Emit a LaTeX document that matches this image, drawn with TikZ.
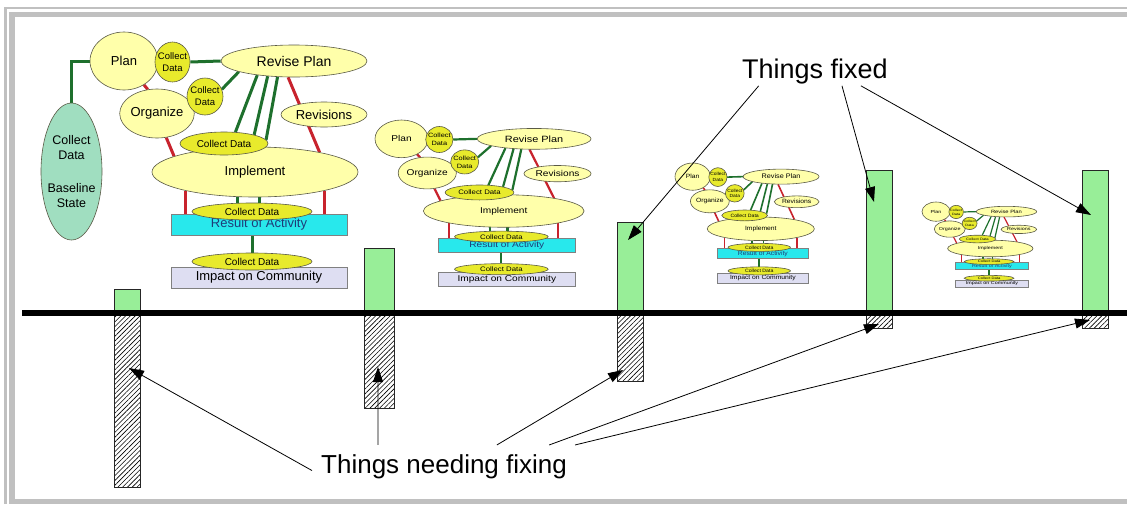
\documentclass[tikz,border=0pt]{standalone}
\usepackage{fontspec}
\setmainfont{Liberation Sans}
\usetikzlibrary{shapes.geometric,arrows.meta,patterns.meta,calc}
\pgfdeclarelayer{back}
\pgfdeclarelayer{conn}
\pgfsetlayers{back,conn,main}
\definecolor{paley}{RGB}{255,255,170}
\definecolor{brighty}{RGB}{232,234,44}
\definecolor{cyanbox}{RGB}{40,232,236}
\definecolor{lavbox}{RGB}{222,222,242}
\definecolor{mint}{RGB}{160,222,192}
\definecolor{barg}{RGB}{152,238,152}
\definecolor{dkgreen}{RGB}{30,112,45}
\definecolor{dkred}{RGB}{200,35,45}
\definecolor{framegray}{RGB}{192,192,192}
\definecolor{navytext}{RGB}{30,60,120}
\definecolor{outline}{RGB}{90,90,70}
\tikzset{
  connw/.store in=\connw, connw=3pt,
  gline/.style={draw=dkgreen, line width=\connw},
  rline/.style={draw=dkred, line width=\connw},
  oval/.style={ellipse, draw=outline, line width=0.6pt, inner sep=0pt},
  paleoval/.style={oval, fill=paley, font=\fontsize{13}{15}\selectfont},
  cdoval/.style={oval, fill=brighty, font=\fontsize{10}{12}\selectfont},
  cdcirc/.style={oval, fill=brighty, align=center, inner xsep=-4pt,
    font=\fontsize{9.5}{12}\selectfont, minimum width=35pt, minimum height=40pt},
  boxnode/.style={rectangle, draw=gray, line width=0.6pt, minimum width=176pt,
    minimum height=21pt, inner sep=0pt, font=\fontsize{13}{15}\selectfont},
  greenbar/.style={rectangle, draw=black!85, line width=0.8pt, fill=barg,
    inner sep=0pt, minimum width=26pt},
  hatchbar/.style={rectangle, draw=black!85, line width=0.8pt, inner sep=0pt,
    minimum width=26pt, pattern={Lines[angle=45,distance=3.4pt,line width=0.6pt]}},
  arr/.style={draw=black, line width=0.8pt, -{Triangle[length=15pt,width=10pt]}},
  pics/network/.style={code={
    \node[paleoval, minimum width=68pt, minimum height=58pt] (plan) at (34,29) {Plan};
    \node[cdcirc] (cd1) at (82.5,30) {Collect\\Data};
    \node[paleoval, minimum width=146pt, minimum height=32pt,
      font=\fontsize{14}{16}\selectfont] (revise) at (204,29) {Revise Plan};
    \node[paleoval, minimum width=72pt, minimum height=49pt] (org) at (67,81.5) {Organize};
    \node[cdcirc, minimum width=36pt, minimum height=37pt] (cd2) at (115,64.5) {Collect\\Data};
    \node[paleoval, minimum width=86pt, minimum height=25pt] (revs) at (234,82.5) {Revisions};
    \node[paleoval, minimum width=206pt, minimum height=50pt] (impl) at (165,140) {Implement};
    \node[cdoval, minimum width=88pt, minimum height=23pt] (cd3) at (134,111.5) {Collect Data};
    \node[boxnode, fill=cyanbox, text=navytext] (res) at (169,192.5) {Result of Activity};
    \node[cdoval, minimum width=120pt, minimum height=17pt] (cd4) at (162,179.5) {Collect Data};
    \node[boxnode, fill=lavbox] (imp) at (169,245.5) {Impact on Community};
    \node[cdoval, minimum width=120pt, minimum height=17pt] (cd5) at (162,229.5) {Collect Data};
    \begin{pgfonlayer}{conn}
      \draw[gline] (cd1.east) -- (revise.west);
      \draw[rline] (plan.-50) -- (org.111);
      \draw[rline] (org.-69) -- (impl.169);
      \draw[gline] (revise.191) -- (cd2.23);
      \draw[gline] (revise.201) -- (cd3.45);
      \draw[gline] (revise.210) -- (cd3.16);
      \draw[gline] (revise.224) -- (cd3.5);
      \draw[rline] (revise.250) -- (impl.17);
      \draw[rline] (impl.195) -- (impl.195 |- res.north);
      \draw[rline] (impl.345) -- (impl.345 |- res.north);
      \draw[gline] (impl.235) -- (impl.235 |- cd4.north);
      \draw[gline] (impl.281) -- (impl.281 |- cd4.north);
      \draw[gline] (cd5.north |- res.south) -- (cd5.north);
    \end{pgfonlayer}
  }}
}
\begin{document}
\begin{tikzpicture}[x=1pt,y=-1pt]
\useasboundingbox (0,0) rectangle (1127,504);
\begin{pgfonlayer}{back}
  \fill[white] (0,0) rectangle (1127,504);
\end{pgfonlayer}
% frame
\fill[framegray] (4,7) rectangle (1127,9);
\fill[framegray] (4,7) rectangle (6.7,504);
\fill[framegray] (9.3,11.7) rectangle (1127,17.3);
\fill[framegray] (9.3,11.7) rectangle (15,504);
\fill[framegray] (15,499) rectangle (1127,504);

% the four copies of the plan
\begin{scope}[shift={(90,32)}, transform shape]
  \pic[connw=3pt] (c1-) {network};
\end{scope}
\begin{scope}[shift={(375,120)}, xscale=0.78, yscale=0.65, transform shape]
  \pic[connw=2.2pt] (c2-) {network};
\end{scope}
\begin{scope}[shift={(675,163)}, xscale=0.52, yscale=0.47, transform shape]
  \pic[connw=1.6pt] (c3-) {network};
\end{scope}
\begin{scope}[shift={(922,202)}, xscale=0.414, yscale=0.332, transform shape]
  \pic[connw=1.2pt] (c4-) {network};
\end{scope}

\node[oval, fill=mint, minimum width=61pt, minimum height=137pt, inner xsep=-3pt,
  align=center, font=\fontsize{12.5}{15}\selectfont] (base) at (71.5,171.5)
  {Collect\\Data\\[18pt]Baseline\\State};
\begin{pgfonlayer}{conn}
  \draw[gline] (c1-plan.west) -| (base.north);
\end{pgfonlayer}

% bars
\node[greenbar, minimum height=23pt, anchor=south west] (g1) at (114,313) {};
\node[hatchbar, minimum height=174pt, anchor=north west] (h1) at (114,313) {};
\node[greenbar, minimum width=30pt, minimum height=64pt, anchor=south west] (g2) at (364,313) {};
\node[hatchbar, minimum width=30pt, minimum height=95pt, anchor=north west] (h2) at (364,313) {};
\node[greenbar, minimum height=90pt, anchor=south west] (g3) at (617,313) {};
\node[hatchbar, minimum height=68pt, anchor=north west] (h3) at (617,313) {};
\node[greenbar, minimum height=142pt, anchor=south west] (g4) at (866,313) {};
\node[hatchbar, minimum height=15pt, anchor=north west] (h4) at (866,313) {};
\node[greenbar, minimum height=142pt, anchor=south west] (g5) at (1082,313) {};
\node[hatchbar, minimum height=15pt, anchor=north west] (h5) at (1082,313) {};

\draw[line width=6pt] (22,313) -- (1127,313);

% labels
\node[anchor=base west, inner sep=2pt, font=\fontsize{27}{32}\selectfont] (fixed) at (740,78) {Things fixed};
\node[anchor=base west, inner sep=9pt, font=\fontsize{26}{31}\selectfont] (needfix) at (312,473) {Things needing fixing};

\coordinate (tf1) at (628,240);
\coordinate (tf2) at (874,202);
\coordinate (tf3) at (1091,215);
\coordinate (tn1) at (129,368);
\coordinate (tn2) at (378,367);
\coordinate (tn3) at (623,370);
\coordinate (tn4) at (879,324);
\coordinate (tn5) at (1090,320);

\draw[arr] ($(fixed.south west)!0.125!(fixed.south east)$) -- (tf1);
\draw[arr] ($(fixed.south west)!0.68!(fixed.south east)$) -- (tf2);
\draw[arr] ($(fixed.south west)!0.806!(fixed.south east)$) -- (tf3);

\draw[arr] ($(needfix.north west)!0.6!(needfix.south west)$) -- (tn1);
\draw[arr] ($(needfix.north west)!0.25!(needfix.north east)$) -- (tn2);
\draw[arr] ($(needfix.north west)!0.70!(needfix.north east)$) -- (tn3);
\draw[arr] ($(needfix.north west)!0.898!(needfix.north east)$) -- (tn4);
\draw[arr] ($(needfix.north west)!0.996!(needfix.north east)$) -- (tn5);
\end{tikzpicture}
\end{document}
